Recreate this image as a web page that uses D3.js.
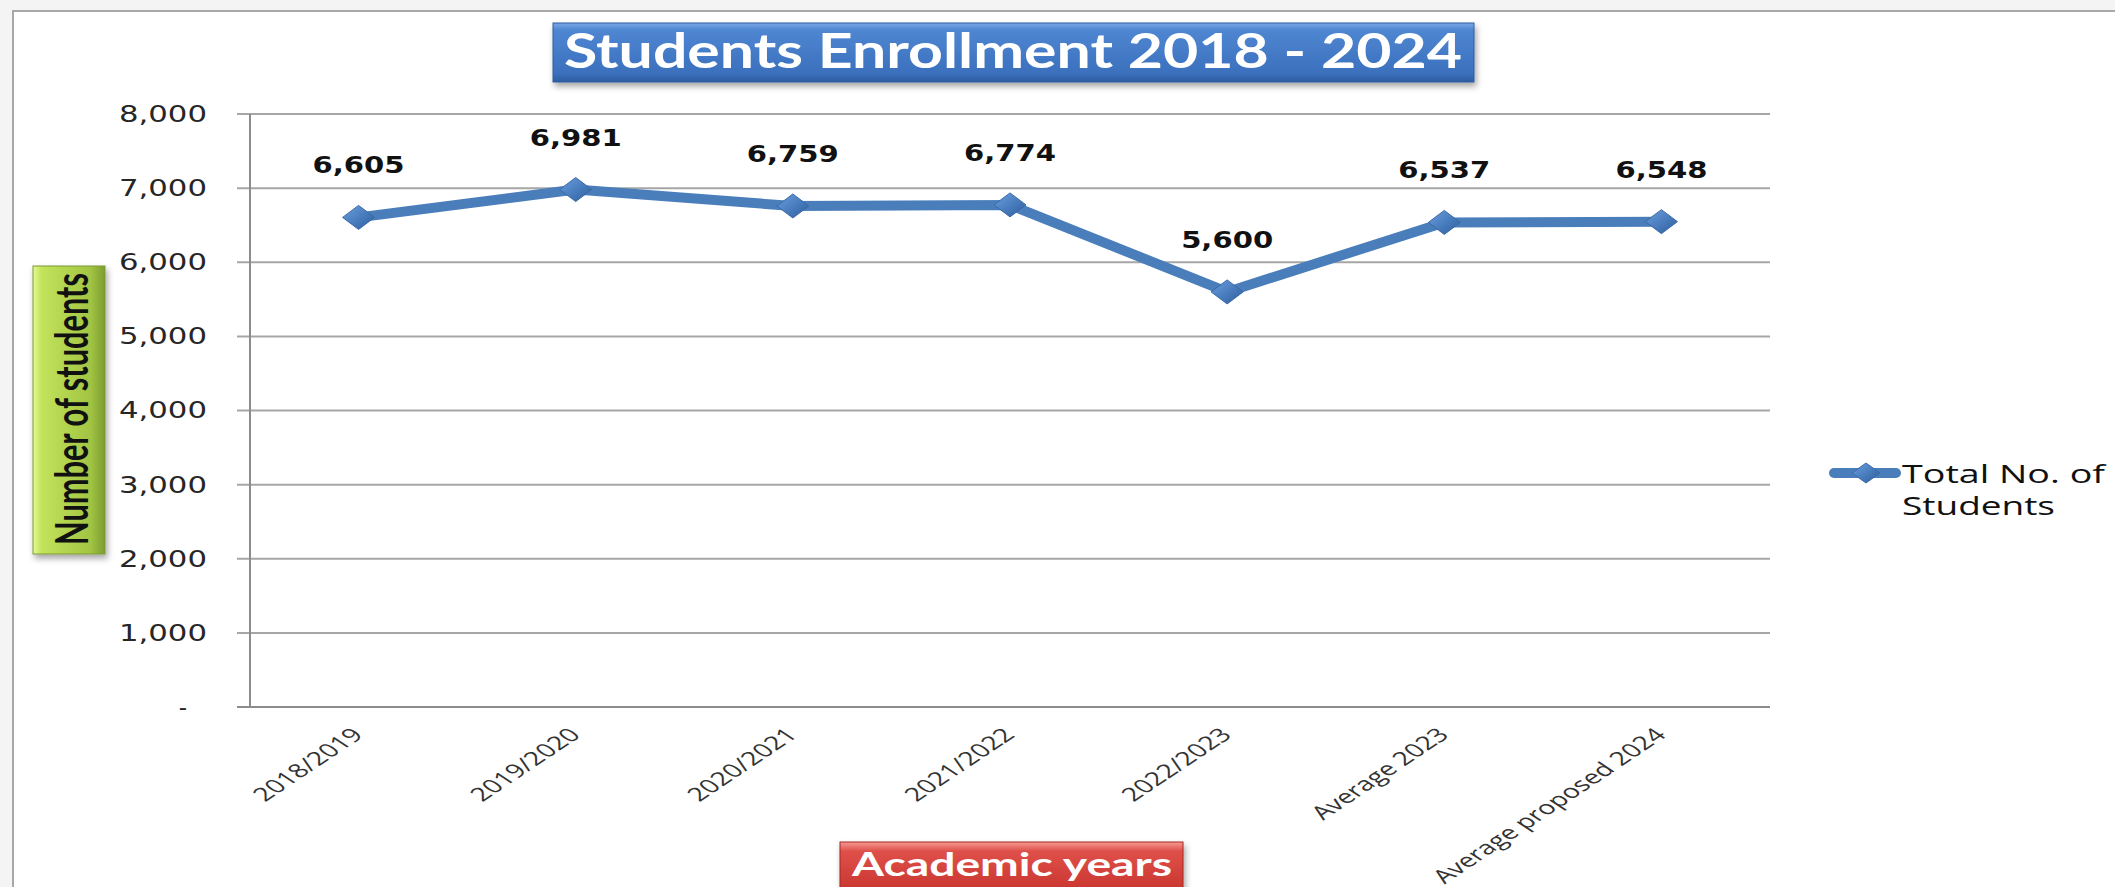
<!DOCTYPE html>
<html>
<head>
<meta charset="utf-8">
<script src="https://cdn.jsdelivr.net/npm/d3@7"></script>
<style>
  html, body { margin: 0; padding: 0; background: #f4f4f4; overflow: hidden; }
  svg { display: block; }
</style>
</head>
<body>
<svg id="chart" width="2115" height="887"></svg>
<script>
// Chart data
var categories = ["2018/2019", "2019/2020", "2020/2021", "2021/2022", "2022/2023", "Average 2023", "Average proposed 2024"];
var students = [6605, 6981, 6759, 6774, 5600, 6537, 6548];
var yTicks = [0, 1000, 2000, 3000, 4000, 5000, 6000, 7000, 8000];
var yTickLabels = ["-", "1,000", "2,000", "3,000", "4,000", "5,000", "6,000", "7,000", "8,000"];
var seriesName = ["Total No. of", "Students"];

var svg = d3.select("#chart");
var defs = svg.append("defs");

// Gradients and shadow
var addGrad = function(id, x2, y2, stops){
  var g = defs.append("linearGradient").attr("id", id)
    .attr("x1", 0).attr("y1", 0).attr("x2", x2).attr("y2", y2);
  stops.forEach(function(s){
    g.append("stop").attr("offset", s[0]).attr("stop-color", s[1]);
  });
};
addGrad("blueBox", 0, 1, [["0%", "#7aa8e6"], ["12%", "#4f86d2"], ["85%", "#3b70bd"], ["100%", "#2d5c9e"]]);
addGrad("redBox", 0, 1, [["0%", "#f59a94"], ["15%", "#df5049"], ["85%", "#c8342e"], ["100%", "#a82722"]]);
addGrad("greenBox", 1, 0, [["0%", "#e6fa94"], ["12%", "#c2e35a"], ["80%", "#a2c443"], ["100%", "#7c9c30"]]);
addGrad("diamond", 1, 1, [["0%", "#6d9fe0"], ["50%", "#4a7ebf"], ["100%", "#2f5e9c"]]);

var shadow = defs.append("filter").attr("id", "shadow")
  .attr("x", "-10%").attr("y", "-20%").attr("width", "130%").attr("height", "160%");
shadow.append("feDropShadow").attr("dx", 2).attr("dy", 4).attr("stdDeviation", 3)
  .attr("flood-color", "#000").attr("flood-opacity", 0.35);

// Frame
svg.append("rect")
  .attr("x", 13).attr("y", 11).attr("width", 2200).attr("height", 900)
  .attr("fill", "#ffffff").attr("stroke", "#a8a8a8").attr("stroke-width", 2);

// Scales
var plotLeft = 250, plotRight = 1770, plotTop = 114, plotBottom = 707;
var x = d3.scalePoint().domain(categories).range([plotLeft, plotRight]).padding(0.5);
var y = d3.scaleLinear().domain([0, 8000]).range([plotBottom, plotTop]);

// Gridlines
svg.append("g").selectAll("line")
  .data(yTicks)
  .enter()
  .append("line")
  .attr("x1", plotLeft - 13).attr("x2", plotRight)
  .attr("y1", function(d){ return y(d); })
  .attr("y2", function(d){ return y(d); })
  .attr("stroke", function(d){ return d === 0 ? "#8c8c8c" : "#a6a6a6"; })
  .attr("stroke-width", 2);

// Y axis
var yAxis = svg.append("g")
  .attr("transform", "translate(" + plotLeft + ",0)")
  .call(d3.axisLeft(y)
    .tickValues(yTicks)
    .tickFormat(function(d, i){ return yTickLabels[i]; })
    .tickSize(0)
    .tickPadding(43));
yAxis.select(".domain").remove();
yAxis.selectAll("text")
  .attr("font-family", "DejaVu Sans, Verdana, sans-serif")
  .attr("font-size", 23)
  .attr("fill", "#262626")
  .attr("dx", function(d){ return d === 0 ? -20 : 0; })
  .attr("textLength", function(d){ return d === 0 ? null : 88; })
  .attr("lengthAdjust", "spacingAndGlyphs");

svg.append("line")
  .attr("x1", plotLeft).attr("x2", plotLeft)
  .attr("y1", plotTop).attr("y2", plotBottom)
  .attr("stroke", "#8c8c8c").attr("stroke-width", 2);

// X axis labels (rotated, stretched like the source)
svg.append("g").selectAll("text")
  .data(categories)
  .enter()
  .append("text")
  .attr("transform", function(d){
    return "translate(" + (x(d) + 6) + "," + (plotBottom + 29) + ") scale(1.5,1) rotate(-45)";
  })
  .attr("text-anchor", "end")
  .attr("font-family", "Open Sans, sans-serif")
  .attr("font-size", 19)
  .attr("fill", "#333")
  .text(function(d){ return d; });

// Series line
var line = d3.line()
  .x(function(d, i){ return x(categories[i]); })
  .y(function(d){ return y(d); });

svg.append("path")
  .datum(students)
  .attr("d", line)
  .attr("fill", "none")
  .attr("stroke", "#4a7ebb")
  .attr("stroke-width", 10)
  .attr("stroke-linejoin", "round");

var diamondPath = "M0,-12 L16,0 L0,12 L-16,0 Z";

svg.append("g").selectAll("path")
  .data(students)
  .enter()
  .append("path")
  .attr("d", diamondPath)
  .attr("transform", function(d, i){ return "translate(" + x(categories[i]) + "," + y(d) + ")"; })
  .attr("fill", "url(#diamond)")
  .attr("stroke", "#3a69a8")
  .attr("stroke-width", 1);

// Data labels
svg.append("g").selectAll("text")
  .data(students)
  .enter()
  .append("text")
  .attr("x", function(d, i){ return x(categories[i]); })
  .attr("y", function(d){ return y(d) - 44; })
  .attr("text-anchor", "middle")
  .attr("font-family", "DejaVu Sans, Verdana, sans-serif")
  .attr("font-weight", "bold")
  .attr("font-size", 23)
  .attr("fill", "#111")
  .attr("textLength", 92)
  .attr("lengthAdjust", "spacingAndGlyphs")
  .text(function(d){ return d3.format(",")(d); });

// Title box
svg.append("rect")
  .attr("x", 553).attr("y", 23).attr("width", 921).attr("height", 59)
  .attr("fill", "url(#blueBox)").attr("stroke", "#2f5f9f").attr("stroke-width", 1)
  .attr("filter", "url(#shadow)");
svg.append("text")
  .attr("x", 1013).attr("y", 68)
  .attr("text-anchor", "middle")
  .attr("font-family", "Lato, Open Sans, sans-serif")
  .attr("font-weight", "bold")
  .attr("font-size", 48)
  .attr("fill", "#ffffff")
  .attr("textLength", 898)
  .attr("lengthAdjust", "spacingAndGlyphs")
  .text("Students Enrollment 2018 - 2024");

// Y axis title box
svg.append("rect")
  .attr("x", 33).attr("y", 266).attr("width", 72).attr("height", 288)
  .attr("fill", "url(#greenBox)").attr("stroke", "#7a9a30").attr("stroke-width", 1)
  .attr("filter", "url(#shadow)");
svg.append("text")
  .attr("transform", "translate(88,409) scale(1.5,1) rotate(-90)")
  .attr("text-anchor", "middle")
  .attr("font-family", "Lato, Open Sans, sans-serif")
  .attr("font-weight", "bold")
  .attr("font-size", 30)
  .attr("fill", "#111")
  .attr("textLength", 272)
  .attr("lengthAdjust", "spacingAndGlyphs")
  .text("Number of students");

// X axis title box
svg.append("rect")
  .attr("x", 840).attr("y", 842).attr("width", 343).attr("height", 60)
  .attr("fill", "url(#redBox)").attr("stroke", "#a82722").attr("stroke-width", 1)
  .attr("filter", "url(#shadow)");
svg.append("text")
  .attr("x", 1012).attr("y", 876)
  .attr("text-anchor", "middle")
  .attr("font-family", "Lato, Open Sans, sans-serif")
  .attr("font-weight", "bold")
  .attr("font-size", 33)
  .attr("fill", "#ffffff")
  .attr("textLength", 320)
  .attr("lengthAdjust", "spacingAndGlyphs")
  .text("Academic years");

// Legend
var legend = svg.append("g");
legend.append("line")
  .attr("x1", 1834).attr("x2", 1896).attr("y1", 473).attr("y2", 473)
  .attr("stroke", "#4a7ebb").attr("stroke-width", 10).attr("stroke-linecap", "round");
legend.append("path")
  .attr("d", "M0,-10 L14,0 L0,10 L-14,0 Z")
  .attr("transform", "translate(1866,473)")
  .attr("fill", "url(#diamond)").attr("stroke", "#3a69a8").attr("stroke-width", 1);
legend.selectAll("text")
  .data(seriesName)
  .enter()
  .append("text")
  .attr("x", 1902)
  .attr("y", function(d, i){ return 483 + i * 32; })
  .attr("font-family", "Open Sans, sans-serif")
  .attr("font-size", 25)
  .attr("fill", "#111")
  .attr("textLength", function(d, i){ return i === 0 ? 203 : 153; })
  .attr("lengthAdjust", "spacingAndGlyphs")
  .text(function(d){ return d; });
</script>
</body>
</html>
